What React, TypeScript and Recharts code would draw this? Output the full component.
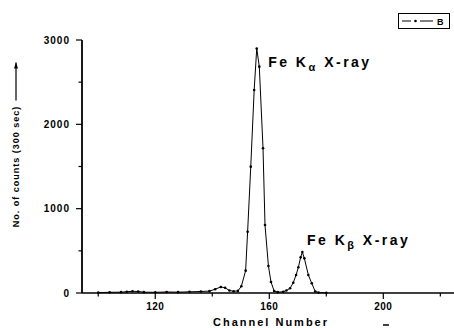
import React from "react";
import { LineChart, Line, XAxis, YAxis, ReferenceDot, Label } from "recharts";

// values
const channels = [
  100, 104, 108, 110, 112, 114, 116, 120, 124, 128, 132, 136, 139, 141, 143, 144.5,
  146, 147.5, 149, 150.2, 151.7, 152.4, 153.5, 154.7, 155.6, 156.5, 157.8, 158.5,
  159.7, 160.6, 161.7, 163, 164.9, 166, 167.3, 168.4, 169.4, 170.2, 171, 171.6,
  172.3, 173.7, 174.9, 176.1, 177.3, 180,
];
const counts = [
  5, 8, 10, 15, 20, 18, 10, 8, 12, 10, 14, 18, 22, 45, 72, 62,
  30, 20, 25, 80, 265, 727, 1498, 2407, 2900, 2684, 1716, 806,
  320, 130, 24, 10, 15, 30, 56, 122, 213, 305, 423, 485,
  411, 213, 115, 18, 5, 3,
];
const xTicks = [100, 120, 140, 160, 180, 200, 220];
const xLabeled = [120, 160, 200];
const yTicks = [0, 500, 1000, 1500, 2000, 2500, 3000];
const yLabeled = [0, 1000, 2000, 3000];

const data = channels.map((c, i) => ({ channel: c, counts: counts[i] }));

const font = "'Liberation Sans', Arial, sans-serif";

const BottomTick = (props: any) => {
  const { x, y, payload } = props;
  const major = xLabeled.includes(payload.value);
  return (
    <g>
      <line x1={x} x2={x} y1={y} y2={y + (major ? 6 : 3.5)} stroke="#000" strokeWidth={1.2} />
      {major && (
        <text x={x} y={y + 17} textAnchor="middle" fontFamily={font} fontWeight="bold" fontSize={10} letterSpacing={0.5} fill="#000">
          {payload.value}
        </text>
      )}
    </g>
  );
};

const TopTick = (props: any) => {
  const { x, y, payload } = props;
  const major = xLabeled.includes(payload.value);
  return <line x1={x} x2={x} y1={y} y2={y - (major ? 6 : 3.5)} stroke="#000" strokeWidth={1.2} />;
};

const LeftTick = (props: any) => {
  const { x, y, payload } = props;
  const major = yLabeled.includes(payload.value);
  return (
    <g>
      <line x1={x} x2={x - (major ? 6 : 3.5)} y1={y} y2={y} stroke="#000" strokeWidth={1.2} />
      {major && (
        <text x={x - 12} y={y + 3.6} textAnchor="end" fontFamily={font} fontWeight="bold" fontSize={10} letterSpacing={1} fill="#000">
          {payload.value}
        </text>
      )}
    </g>
  );
};

const YTitle = (props: any) => {
  const vb = props.viewBox;
  const cx = vb.x + 16;
  const cy = vb.y + vb.height / 2;
  return (
    <g>
      <text
        x={cx}
        y={cy}
        transform={`rotate(-90 ${cx} ${cy})`}
        textAnchor="middle"
        dominantBaseline="central"
        fontFamily={font}
        fontWeight="bold"
        fontSize={9}
        letterSpacing={1}
        fill="#000"
      >
        No. of counts (300 sec)
      </text>
      <line x1={cx} x2={cx} y1={cy - 66} y2={cy - 104} stroke="#000" strokeWidth={1.2} />
      <path d={`M${cx - 2} ${cy - 98} L${cx} ${cy - 104} L${cx + 2} ${cy - 98} Z`} fill="#000" />
    </g>
  );
};

const XTitle = (props: any) => {
  const vb = props.viewBox;
  const cx = vb.x + vb.width / 2;
  return (
    <g>
      <text x={cx} y={vb.y + 33} textAnchor="middle" fontFamily={font} fontWeight="bold" fontSize={11} letterSpacing={2} fill="#000">
        Channel Number
      </text>
      <line x1={cx + 112} x2={cx + 118} y1={vb.y + 32} y2={vb.y + 32} stroke="#000" strokeWidth={1.5} />
    </g>
  );
};

const peakLabel = (sub: string) => (props: any) => {
  const { x, y } = props.viewBox;
  return (
    <text x={x} y={y} fontFamily={font} fontWeight="bold" fontSize={14} letterSpacing={2.5} fill="#000">
      Fe K
      <tspan fontSize={11} dy={4}>{sub}</tspan>
      <tspan dy={-4}> X-ray</tspan>
    </text>
  );
};

const App: React.FC = () => {
  return (
    <div style={{ position: "absolute", left: 0, top: 0, width: 454, height: 328, overflow: "hidden", background: "#fff" }}>
      <LineChart width={470} height={328} data={data} margin={{ top: 40, right: 10, bottom: 0, left: 0 }}>
        <XAxis
          xAxisId="bottom"
          dataKey="channel"
          type="number"
          domain={[94.3, 226.9]}
          ticks={xTicks}
          interval={0}
          height={35}
          tickSize={0}
          tickMargin={0}
          tickLine={false}
          tick={<BottomTick />}
          axisLine={{ stroke: "#000", strokeWidth: 1.6 }}
        >
          <Label content={<XTitle />} />
        </XAxis>
        <XAxis
          xAxisId="top"
          orientation="top"
          dataKey="channel"
          type="number"
          domain={[94.3, 226.9]}
          ticks={xTicks}
          interval={0}
          height={0}
          tickSize={0}
          tickMargin={0}
          tickLine={false}
          tick={<TopTick />}
          axisLine={{ stroke: "#000", strokeWidth: 1.6 }}
        />
        <YAxis
          yAxisId="left"
          type="number"
          domain={[0, 3000]}
          ticks={yTicks}
          interval={0}
          width={82}
          tickSize={0}
          tickMargin={0}
          tickLine={false}
          tick={<LeftTick />}
          axisLine={{ stroke: "#000", strokeWidth: 1.8 }}
        >
          <Label content={<YTitle />} />
        </YAxis>
        <Line
          xAxisId="bottom"
          yAxisId="left"
          type="linear"
          dataKey="counts"
          stroke="#000"
          strokeWidth={1}
          dot={{ r: 1.3, fill: "#000", stroke: "none" }}
          isAnimationActive={false}
        />
        <ReferenceDot xAxisId="bottom" yAxisId="left" x={159.6} y={2680} r={0} fill="none" stroke="none" label={peakLabel("α")} />
        <ReferenceDot xAxisId="bottom" yAxisId="left" x={173.2} y={569} r={0} fill="none" stroke="none" label={peakLabel("β")} />
      </LineChart>
      <div
        style={{
          position: "absolute",
          left: 398,
          top: 13,
          width: 50,
          height: 14,
          border: "1.5px solid #000",
          background: "#fff",
        }}
      >
        <svg width={50} height={14} style={{ display: "block" }}>
          <line x1={3} x2={12} y1={7} y2={7} stroke="#000" strokeWidth={1} />
          <circle cx={16.5} cy={7} r={1.3} fill="#000" />
          <line x1={21} x2={34} y1={7} y2={7} stroke="#000" strokeWidth={1} />
          <text x={38} y={10.5} fontFamily={font} fontWeight="bold" fontSize={9} fill="#000">
            B
          </text>
        </svg>
      </div>
    </div>
  );
};

export default App;
